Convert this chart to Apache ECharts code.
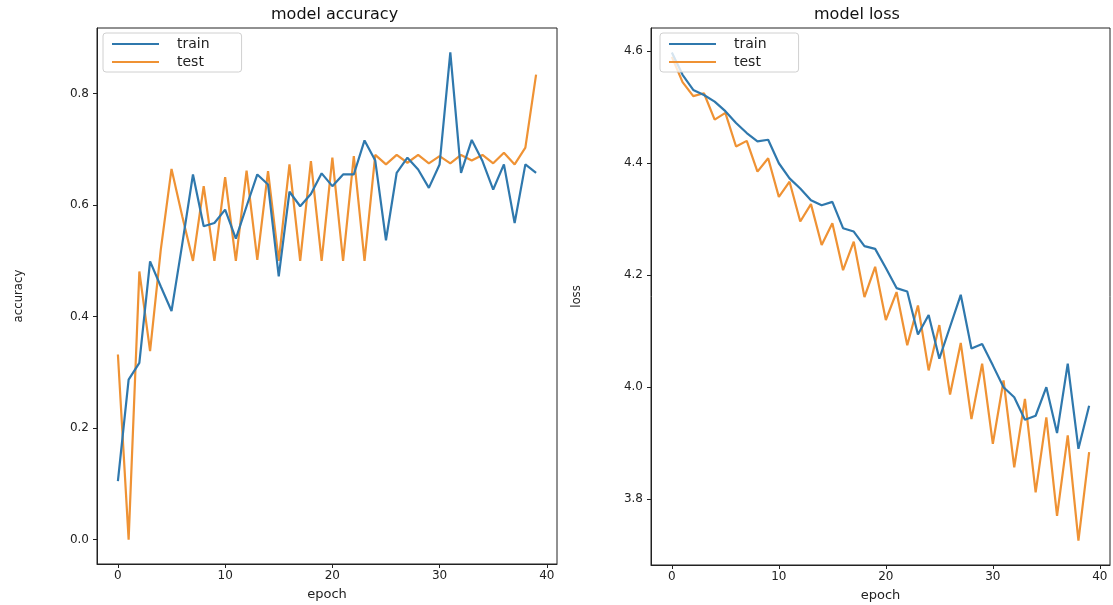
<!DOCTYPE html>
<html>
<head>
<meta charset="utf-8">
<title>model accuracy / model loss</title>
<script src="https://cdn.jsdelivr.net/npm/echarts@6/dist/echarts.min.js"></script>
<style>
  html, body { margin: 0; padding: 0; background: #fff; }
  #chart { width: 1113px; height: 605px; }
</style>
</head>
<body>
<div id="chart"></div>
<script>
// epochs on the x axis
const epochs = [0, 1, 2, 3, 4, 5, 6, 7, 8, 9, 10, 11, 12, 13, 14, 15, 16, 17, 18, 19,
  20, 21, 22, 23, 24, 25, 26, 27, 28, 29, 30, 31, 32, 33, 34, 35, 36, 37, 38, 39]

// model accuracy
const accTrain = [0.105, 0.287, 0.317, 0.499, 0.454, 0.41, 0.53, 0.655, 0.562, 0.568,
  0.592, 0.54, 0.598, 0.655, 0.637, 0.472, 0.624, 0.598, 0.62, 0.657,
  0.634, 0.655, 0.655, 0.716, 0.68, 0.537, 0.658, 0.685, 0.664, 0.631,
  0.673, 0.874, 0.658, 0.717, 0.679, 0.628, 0.673, 0.568, 0.673, 0.658]
const accTest = [0.332, 0.0, 0.481, 0.338, 0.52, 0.665, 0.58, 0.5, 0.634, 0.5,
  0.65, 0.5, 0.662, 0.502, 0.661, 0.5, 0.673, 0.5, 0.679, 0.5,
  0.685, 0.5, 0.688, 0.5, 0.69, 0.673, 0.69, 0.676, 0.69, 0.675,
  0.688, 0.675, 0.69, 0.68, 0.69, 0.675, 0.694, 0.673, 0.703, 0.834]

// model loss
const lossTrain = [4.598, 4.558, 4.531, 4.522, 4.51, 4.493, 4.472, 4.454, 4.439, 4.442,
  4.4, 4.373, 4.355, 4.334, 4.325, 4.331, 4.284, 4.278, 4.252, 4.247,
  4.213, 4.177, 4.171, 4.094, 4.129, 4.051, 4.108, 4.165, 4.069, 4.077,
  4.039, 4.0, 3.982, 3.942, 3.949, 4.0, 3.918, 4.042, 3.89, 3.967]
const lossTest = [4.59, 4.545, 4.52, 4.525, 4.478, 4.49, 4.43, 4.44, 4.385, 4.409,
  4.34, 4.367, 4.296, 4.327, 4.254, 4.293, 4.209, 4.26, 4.161, 4.215,
  4.12, 4.17, 4.075, 4.146, 4.03, 4.111, 3.987, 4.079, 3.943, 4.042,
  3.899, 4.012, 3.857, 3.979, 3.812, 3.946, 3.77, 3.914, 3.726, 3.884]

// tick labels
const epochTicks = [0, 10, 20, 30, 40]
const accTicks = [0.0, 0.2, 0.4, 0.6, 0.8]
const lossTicks = [3.8, 4.0, 4.2, 4.4, 4.6]

const BLUE = '#2f78ad'
const ORANGE = '#ef9234'
const FONT = 'DejaVu Sans'

// matplotlib style 5% margins around the data
function pad (arrs) {
  let all = [].concat(...arrs)
  let lo = Math.min(...all)
  let hi = Math.max(...all)
  let m = (hi - lo) * 0.05
  return [lo - m, hi + m]
}
const xr = pad([epochs])
const accR = pad([accTrain, accTest])
const lossR = pad([lossTrain, lossTest])

function pairs (ys) {
  return epochs.map((x, i) => [x, ys[i]])
}

function xAxis (gridIndex) {
  return {
    type: 'value',
    gridIndex: gridIndex,
    min: xr[0],
    max: xr[1],
    name: 'epoch',
    nameLocation: 'middle',
    nameGap: 24,
    nameTextStyle: { fontFamily: FONT, fontSize: 13, color: '#222' },
    axisLine: { show: true, onZero: false, lineStyle: { color: '#222', width: 1 } },
    axisTick: { show: true, length: 4, customValues: epochTicks, lineStyle: { color: '#222' } },
    axisLabel: { customValues: epochTicks, margin: 6, fontFamily: FONT, fontSize: 12, color: '#222' },
    splitLine: { show: false }
  }
}

function yAxis (gridIndex, range, ticks, name, gap) {
  return {
    type: 'value',
    gridIndex: gridIndex,
    min: range[0],
    max: range[1],
    name: name,
    nameLocation: 'middle',
    nameGap: gap,
    nameTextStyle: { fontFamily: 'Liberation Sans Narrow, DejaVu Sans Condensed, ' + FONT, fontSize: 13, color: '#222' },
    axisLine: { show: true, onZero: false, lineStyle: { color: '#222', width: 1 } },
    axisTick: { show: true, length: 4, customValues: ticks, lineStyle: { color: '#222' } },
    axisLabel: {
      customValues: ticks,
      margin: 8,
      fontFamily: FONT,
      fontSize: 12,
      color: '#222',
      formatter: (v) => v.toFixed(1)
    },
    splitLine: { show: false }
  }
}

function line (name, gridIndex, ys, color) {
  return {
    name: name,
    type: 'line',
    xAxisIndex: gridIndex,
    yAxisIndex: gridIndex,
    data: pairs(ys),
    symbol: 'none',
    smooth: false,
    lineStyle: { color: color, width: 2.2 },
    itemStyle: { color: color },
    emphasis: { disabled: true },
    z: name === 'train' ? 3 : 2
  }
}

function legend (left) {
  return {
    left: left,
    top: 33,
    orient: 'vertical',
    data: ['train', 'test'],
    icon: 'rect',
    itemWidth: 47,
    itemHeight: 2,
    itemGap: 4,
    padding: [4, 32, 3, 9],
    backgroundColor: 'rgba(255,255,255,0.8)',
    borderColor: '#d0d0d0',
    borderWidth: 1,
    borderRadius: 3,
    textStyle: { fontFamily: FONT, fontSize: 14, color: '#222', padding: [0, 0, 0, 13] },
    selectedMode: false
  }
}

let chart = echarts.init(document.getElementById('chart'), null, { renderer: 'canvas' })
chart.setOption({
  animation: false,
  backgroundColor: '#fff',
  title: [
    { text: 'model accuracy', left: 266, top: 2, textStyle: { fontFamily: FONT, fontSize: 16, fontWeight: 'normal', color: '#111' } },
    { text: 'model loss', left: 809, top: 2, textStyle: { fontFamily: FONT, fontSize: 16, fontWeight: 'normal', color: '#111' } }
  ],
  legend: [legend(103), legend(660)],
  grid: [
    { left: 97, top: 28, width: 460, height: 536, show: true, borderColor: '#222', borderWidth: 1, backgroundColor: '#fff', outerBoundsMode: 'none' },
    { left: 651, top: 28, width: 459, height: 537, show: true, borderColor: '#222', borderWidth: 1, backgroundColor: '#fff', outerBoundsMode: 'none' }
  ],
  xAxis: [xAxis(0), xAxis(1)],
  yAxis: [
    yAxis(0, accR, accTicks, 'accuracy', 72),
    yAxis(1, lossR, lossTicks, 'loss', 68)
  ],
  series: [
    line('train', 0, accTrain, BLUE),
    line('test', 0, accTest, ORANGE),
    line('train', 1, lossTrain, BLUE),
    line('test', 1, lossTest, ORANGE)
  ]
})
</script>
</body>
</html>
